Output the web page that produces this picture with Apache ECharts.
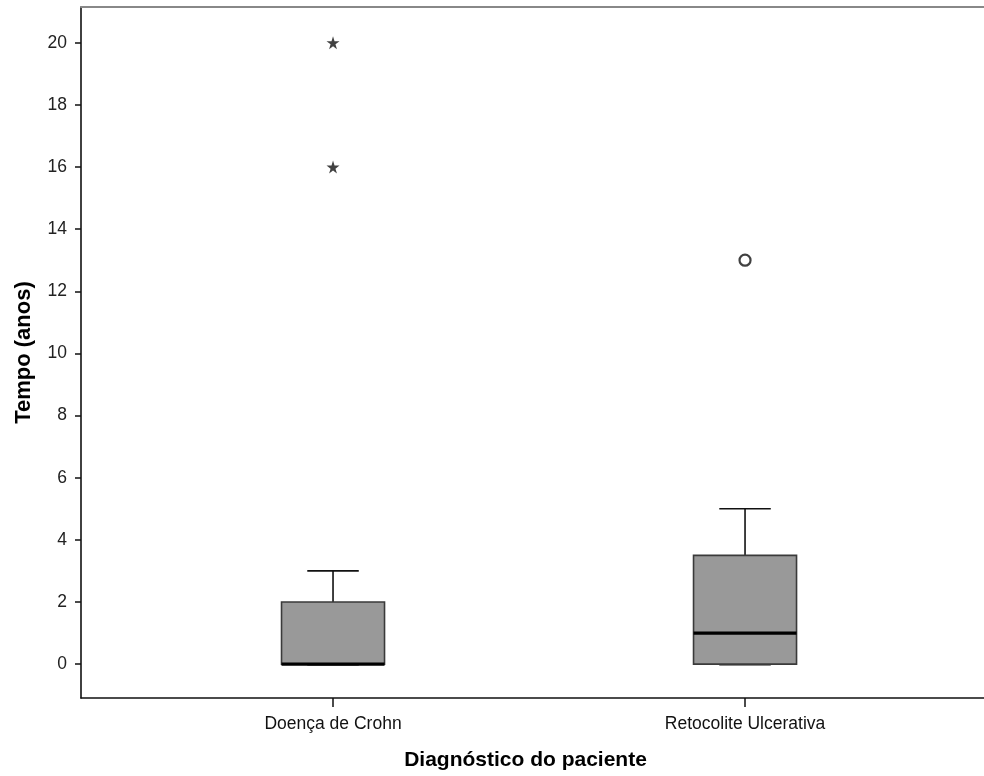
<!DOCTYPE html>
<html>
<head>
<meta charset="utf-8">
<script src="https://cdn.jsdelivr.net/npm/echarts@6/dist/echarts.min.js"></script>
<style>
html,body{margin:0;padding:0;background:#fff;}
#chart{width:984px;height:776px;}
</style>
</head>
<body>
<div id="chart"></div>
<script>
// ---- data ----
const categories = ['Doença de Crohn', 'Retocolite Ulcerativa'];
const whiskerLow = [0, 0];
const q1 = [0, 0];
const median = [0, 1];
const q3 = [2, 3.5];
const whiskerHigh = [3, 5];
// extreme outliers (stars)
const extremeCat = [0, 0];
const extremeVal = [16, 20];
// mild outliers (circles)
const outlierCat = [1];
const outlierVal = [13];
const yTicks = [0, 2, 4, 6, 8, 10, 12, 14, 16, 18, 20];
const xTicks = [0, 1];

const boxData = categories.map((c, i) => [i, whiskerLow[i], q1[i], median[i], q3[i], whiskerHigh[i]]);
const extremeData = extremeCat.map((c, i) => [c, extremeVal[i]]);
const outlierData = outlierCat.map((c, i) => [c, outlierVal[i]]);

const FONT = '"Liberation Sans", Arial, sans-serif';
const starPath = 'path://M50,0 L61,35 L98,35 L68,57 L79,91 L50,70 L21,91 L32,57 L2,35 L39,35 Z';

const chart = echarts.init(document.getElementById('chart'), null, {renderer: 'canvas'});

function renderBox(params, api) {
  const x = api.value(0);
  const pLow = api.coord([x, api.value(1)]);
  const pQ1 = api.coord([x, api.value(2)]);
  const pMed = api.coord([x, api.value(3)]);
  const pQ3 = api.coord([x, api.value(4)]);
  const pHigh = api.coord([x, api.value(5)]);
  const unit = api.size([1, 0])[0];
  const bw = unit * 0.25;
  const cw = bw / 2;
  const cx = pQ1[0];
  const lineStyle = {stroke: '#111', lineWidth: 1.6, fill: null};
  return {
    type: 'group',
    children: [
      {type: 'line', shape: {x1: cx, y1: pQ3[1], x2: cx, y2: pHigh[1]}, style: lineStyle},
      {type: 'line', shape: {x1: cx - cw / 2, y1: pHigh[1], x2: cx + cw / 2, y2: pHigh[1]}, style: lineStyle},
      {type: 'line', shape: {x1: cx, y1: pQ1[1], x2: cx, y2: pLow[1]}, style: lineStyle},
      {type: 'line', shape: {x1: cx - cw / 2, y1: pLow[1] + 1, x2: cx + cw / 2, y2: pLow[1] + 1}, style: {stroke: '#888', lineWidth: 1.5}},
      {type: 'rect', shape: {x: cx - bw / 2, y: pQ3[1], width: bw, height: pQ1[1] - pQ3[1]},
        style: {fill: '#999999', stroke: '#3a3a3a', lineWidth: 1.6}},
      {type: 'line', shape: {x1: cx - bw / 2, y1: pMed[1], x2: cx + bw / 2, y2: pMed[1]},
        style: {stroke: '#000', lineWidth: 3.2}}
    ]
  };
}

const xMin = -0.6117, xMax = 1.58;
const yMin = -1.09, yMax = 21.15;

chart.setOption({
  animation: false,
  backgroundColor: '#fff',
  grid: {left: 81, top: 7, right: 0, bottom: 75, containLabel: false},
  xAxis: [{
    type: 'value', min: xMin, max: xMax, position: 'bottom',
    axisLine: {show: true, onZero: false, lineStyle: {color: '#111', width: 1.6}},
    axisTick: {show: true, length: 9, customValues: xTicks, lineStyle: {color: '#111', width: 1.5}},
    axisLabel: {show: true, customValues: xTicks, margin: 17, color: '#111', fontFamily: FONT, fontSize: 17.5,
      formatter: v => categories[Math.round(v)] || ''},
    splitLine: {show: false},
    name: 'Diagnóstico do paciente', nameLocation: 'middle', nameGap: 52,
    nameTextStyle: {fontFamily: FONT, fontSize: 21, fontWeight: 'bold', color: '#000', padding: [0, 14, 0, 0]}
  }, {
    type: 'value', min: xMin, max: xMax, position: 'top',
    axisLine: {show: true, onZero: false, lineStyle: {color: '#888', width: 2}},
    axisTick: {show: false}, axisLabel: {show: false}, splitLine: {show: false}
  }],
  yAxis: {
    type: 'value', min: yMin, max: yMax,
    axisLine: {show: true, onZero: false, lineStyle: {color: '#111', width: 1.6}},
    axisTick: {show: true, length: 6, customValues: yTicks, lineStyle: {color: '#111', width: 1.5}},
    axisLabel: {show: true, customValues: yTicks, margin: 14, color: '#222', fontFamily: FONT, fontSize: 17.5},
    splitLine: {show: false},
    name: 'Tempo (anos)', nameLocation: 'middle', nameGap: 46,
    nameTextStyle: {fontFamily: FONT, fontSize: 22, fontWeight: 'bold', color: '#000'}
  },
  series: [{
    type: 'custom',
    xAxisIndex: 0,
    renderItem: renderBox,
    data: boxData,
    encode: {x: 0, y: [1, 2, 3, 4, 5]},
    z: 2
  }, {
    type: 'scatter',
    xAxisIndex: 0,
    data: extremeData,
    symbol: starPath,
    symbolSize: 13,
    itemStyle: {color: '#111'},
    z: 3
  }, {
    type: 'scatter',
    xAxisIndex: 0,
    data: outlierData,
    symbol: 'circle',
    symbolSize: 11,
    itemStyle: {color: '#fff', borderColor: '#111', borderWidth: 2.2},
    z: 3
  }]
});
</script>
</body>
</html>
